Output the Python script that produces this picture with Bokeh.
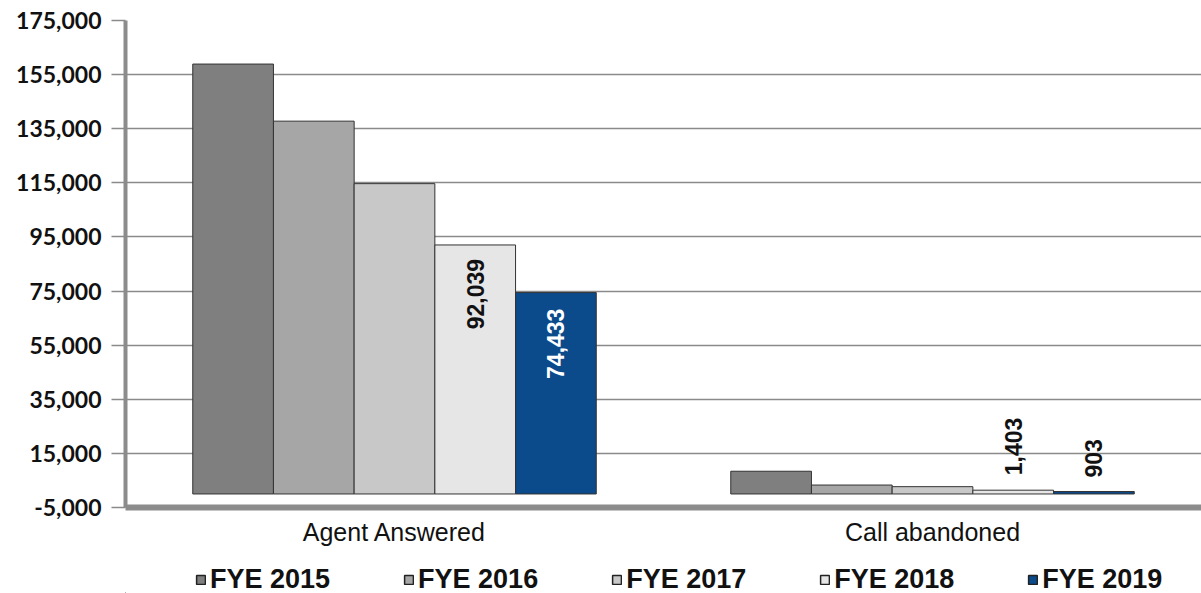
import math
from bokeh.plotting import figure
from bokeh.layouts import column
from bokeh.models import (ColumnDataSource, FactorRange, FixedTicker, NumeralTickFormatter,
                          Legend, LegendItem, Range1d)
from bokeh.transform import dodge
from bokeh.core.properties import value
from bokeh.embed import file_html
from bokeh.resources import INLINE

categories = ["Agent Answered", "Call abandoned"]
series_names = ["FYE 2015", "FYE 2016", "FYE 2017", "FYE 2018", "FYE 2019"]
fye2015 = [158900, 8400]
fye2016 = [137800, 3300]
fye2017 = [114700, 2700]
fye2018 = [92039, 1403]
fye2019 = [74433, 903]
y_ticks = [-5000, 15000, 35000, 55000, 75000, 95000, 115000, 135000, 155000, 175000]

series_values = [fye2015, fye2016, fye2017, fye2018, fye2019]
colors = ["#7f7f7f", "#a6a6a6", "#c8c8c8", "#e6e6e6", "#0b4a8b"]
offsets = [-0.3, -0.15, 0.0, 0.15, 0.3]

data = {"cat": categories}
for name, vals in zip(series_names, series_values):
    data[name] = vals
source = ColumnDataSource(data)

p = figure(x_range=FactorRange(*categories), y_range=Range1d(-5000, 175000),
           width=1201, height=548, output_backend="svg", toolbar_location=None,
           min_border_left=125, min_border_right=0, min_border_top=20, min_border_bottom=35)
p.outline_line_color = None
p.background_fill_color = "white"

for name, col, off in zip(series_names, colors, offsets):
    p.vbar(x=dodge("cat", off, range=p.x_range), top=name, bottom=0, width=0.15,
           source=source, fill_color=col, line_color="#333333", line_width=1)

# data labels
lab_font = value("Liberation Sans")
def add_label(cat_idx, vals, off, y_offset, align, color):
    src = ColumnDataSource({"cat": [categories[cat_idx]], "y": [vals[cat_idx]],
                            "t": [f"{vals[cat_idx]:,}"]})
    p.text(x=dodge("cat", off, range=p.x_range), y="y", text="t", source=src,
           angle=math.pi / 2, text_align=align, text_baseline="middle", y_offset=y_offset,
           text_color=color, text_font=lab_font, text_font_style="bold", text_font_size="23px")

add_label(0, fye2018, 0.15, 14, "right", "#111111")
add_label(0, fye2019, 0.3, 16, "right", "white")
add_label(1, fye2018, 0.15, -15, "left", "#111111")
add_label(1, fye2019, 0.3, -14, "left", "#111111")

# axes
p.xgrid.grid_line_color = None
p.ygrid.ticker = FixedTicker(ticks=y_ticks)
p.ygrid.grid_line_color = "#8a8a8a"
p.ygrid.grid_line_width = 1.5

p.yaxis.ticker = FixedTicker(ticks=y_ticks)
p.yaxis.formatter = NumeralTickFormatter(format="0,0")
p.yaxis.axis_line_color = "#8c8c8c"
p.yaxis.axis_line_width = 4
p.yaxis.major_tick_line_color = "#8a8a8a"
p.yaxis.major_tick_line_width = 1.5
p.yaxis.major_tick_out = 14
p.yaxis.major_tick_in = 0
p.yaxis.minor_tick_line_color = None
p.yaxis.major_label_standoff = 10
p.yaxis.major_label_text_font = "Lato"
p.yaxis.major_label_text_font_style = "bold"
p.yaxis.major_label_text_font_size = "23px"
p.yaxis.major_label_text_color = "#111111"

p.xaxis.axis_line_color = "#8c8c8c"
p.xaxis.axis_line_width = 6
p.xaxis.major_tick_line_color = None
p.xaxis.minor_tick_line_color = None
p.xaxis.major_label_standoff = 4
p.xaxis.major_label_text_font = "Liberation Sans"
p.xaxis.major_label_text_font_size = "25px"
p.xaxis.major_label_text_color = "#111111"

# legend in its own strip below the chart (frame aligned with the chart's frame)
lg = figure(width=1201, height=45, x_range=Range1d(0, 1), y_range=Range1d(0, 1),
            output_backend="svg", toolbar_location=None, min_border=0,
            min_border_left=125)
lg.axis.visible = False
lg.grid.grid_line_color = None
lg.outline_line_color = None
swatch = ColumnDataSource({"x": [-10.0], "top": [-10.0], "bottom": [-20.0]})  # off-range, legend swatches only
items = []
for name, col in zip(series_names, colors):
    r = lg.vbar(x="x", top="top", bottom="bottom", width=0.1, source=swatch, fill_color=col,
                line_color="#222222", line_width=1.5)
    items.append(LegendItem(label=name, renderers=[r]))

legend = Legend(items=items, orientation="horizontal", location=(70, -2),
                border_line_color=None, background_fill_alpha=0,
                label_text_font="Liberation Sans", label_text_font_style="bold",
                label_text_font_size="27px", label_text_color="#111111",
                glyph_width=11, glyph_height=11, label_standoff=4, spacing=73,
                margin=0, padding=0)
lg.add_layout(legend, "center")

layout = column(p, lg, spacing=0)
open("out.html", "w").write(file_html(layout, INLINE))
